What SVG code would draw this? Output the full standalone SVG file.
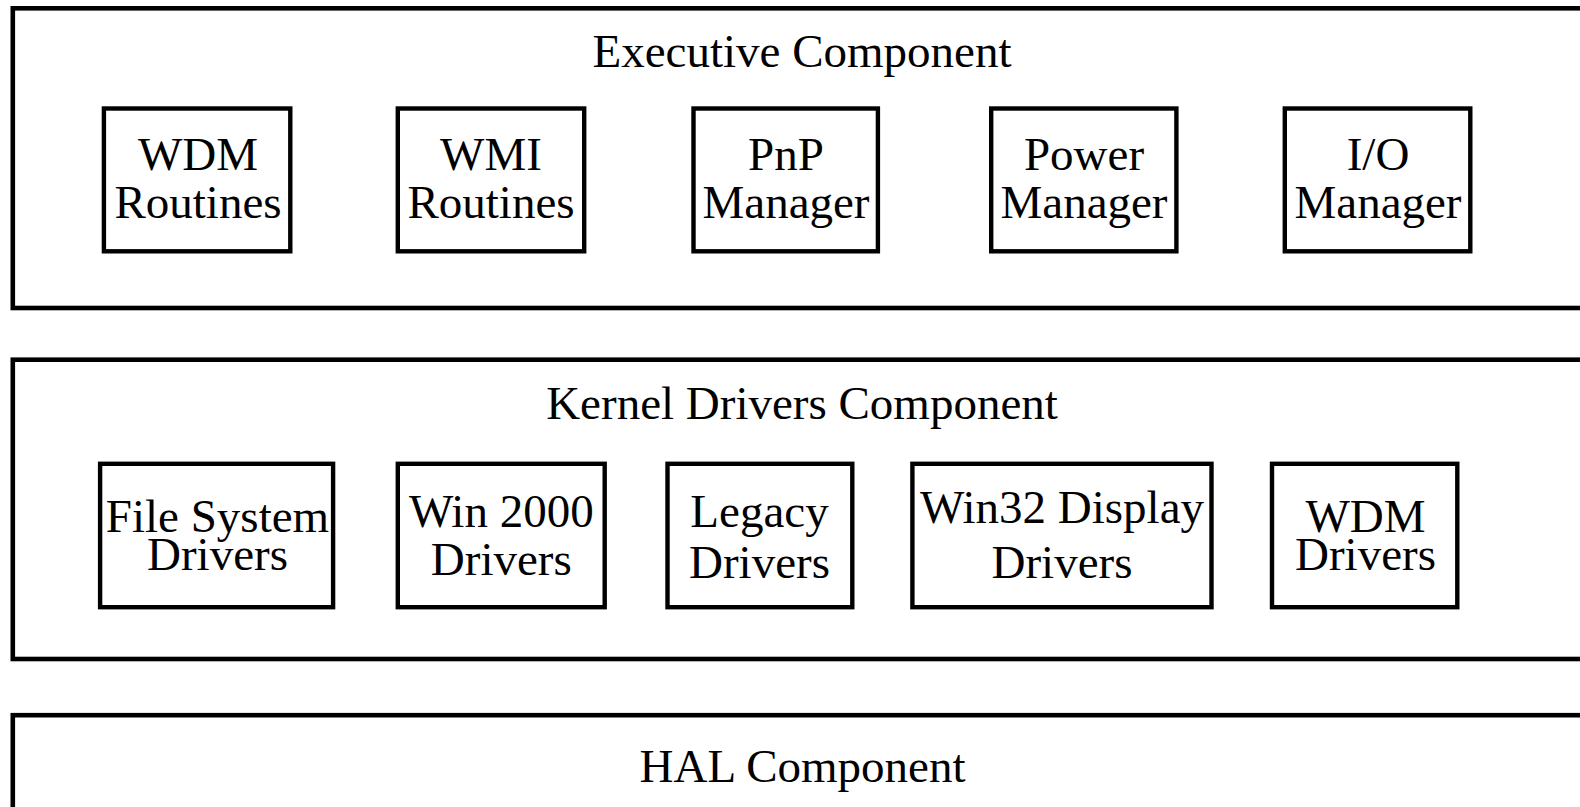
<svg xmlns="http://www.w3.org/2000/svg" width="1580" height="807" viewBox="0 0 1580 807">
<style>
  .layer { fill: #ffffff; stroke: #000000; stroke-width: 4.6; }
  .box { fill: #ffffff; stroke: #000000; stroke-width: 4.4; }
  text { font-family: "Liberation Serif", "Times New Roman", serif; font-size: 47px; fill: #000000; text-anchor: middle; }
</style>
<rect x="0" y="0" width="1580" height="807" fill="#ffffff"/>
<g id="executive-component">
  <rect class="layer" x="12.8" y="8.3" width="1600" height="299.7"/>
  <text x="802" y="66.7">Executive Component</text>
</g>
<g id="wdm-routines">
  <rect class="box" x="103.9" y="108.5" width="186.4" height="142.8"/>
  <text x="198" y="170">WDM</text>
  <text x="198" y="218.3">Routines</text>
</g>
<g id="wmi-routines">
  <rect class="box" x="397.8" y="108.5" width="186.4" height="142.8"/>
  <text x="491" y="170">WMI</text>
  <text x="491" y="218.3">Routines</text>
</g>
<g id="pnp-manager">
  <rect class="box" x="693.5" y="108.5" width="184.4" height="142.8"/>
  <text x="786" y="170">PnP</text>
  <text x="786" y="218.3">Manager</text>
</g>
<g id="power-manager">
  <rect class="box" x="991.2" y="108.5" width="185.2" height="142.8"/>
  <text x="1084" y="170">Power</text>
  <text x="1084" y="218.3">Manager</text>
</g>
<g id="io-manager">
  <rect class="box" x="1284.8" y="108.5" width="185.5" height="142.8"/>
  <text x="1378" y="170">I/O</text>
  <text x="1378" y="218.3">Manager</text>
</g>
<g id="kernel-drivers-component">
  <rect class="layer" x="12.8" y="359.7" width="1600" height="299.3"/>
  <text x="802" y="419.3">Kernel Drivers Component</text>
</g>
<g id="file-system-drivers">
  <rect class="box" x="100.1" y="463.8" width="233" height="143.4"/>
  <text x="217.5" y="531.7">File System</text>
  <text x="217.5" y="570">Drivers</text>
</g>
<g id="win2000-drivers">
  <rect class="box" x="397.8" y="463.8" width="206.9" height="143.4"/>
  <text x="501.3" y="527.3">Win 2000</text>
  <text x="501.3" y="575">Drivers</text>
</g>
<g id="legacy-drivers">
  <rect class="box" x="667.5" y="463.8" width="184.8" height="143.4"/>
  <text x="759.5" y="527.3">Legacy</text>
  <text x="759.5" y="578.3">Drivers</text>
</g>
<g id="win32-display-drivers">
  <rect class="box" x="912.4" y="463.8" width="299.1" height="143.4"/>
  <text x="1062" y="523.3">Win32 Display</text>
  <text x="1062" y="578.3">Drivers</text>
</g>
<g id="wdm-drivers">
  <rect class="box" x="1272" y="463.8" width="185.3" height="143.4"/>
  <text x="1365.5" y="531.7">WDM</text>
  <text x="1365.5" y="570">Drivers</text>
</g>
<g id="hal-component">
  <rect class="layer" x="12.8" y="715.2" width="1600" height="300"/>
  <text x="802.5" y="782.3">HAL Component</text>
</g>
<g id="connectors"></g>
</svg>
